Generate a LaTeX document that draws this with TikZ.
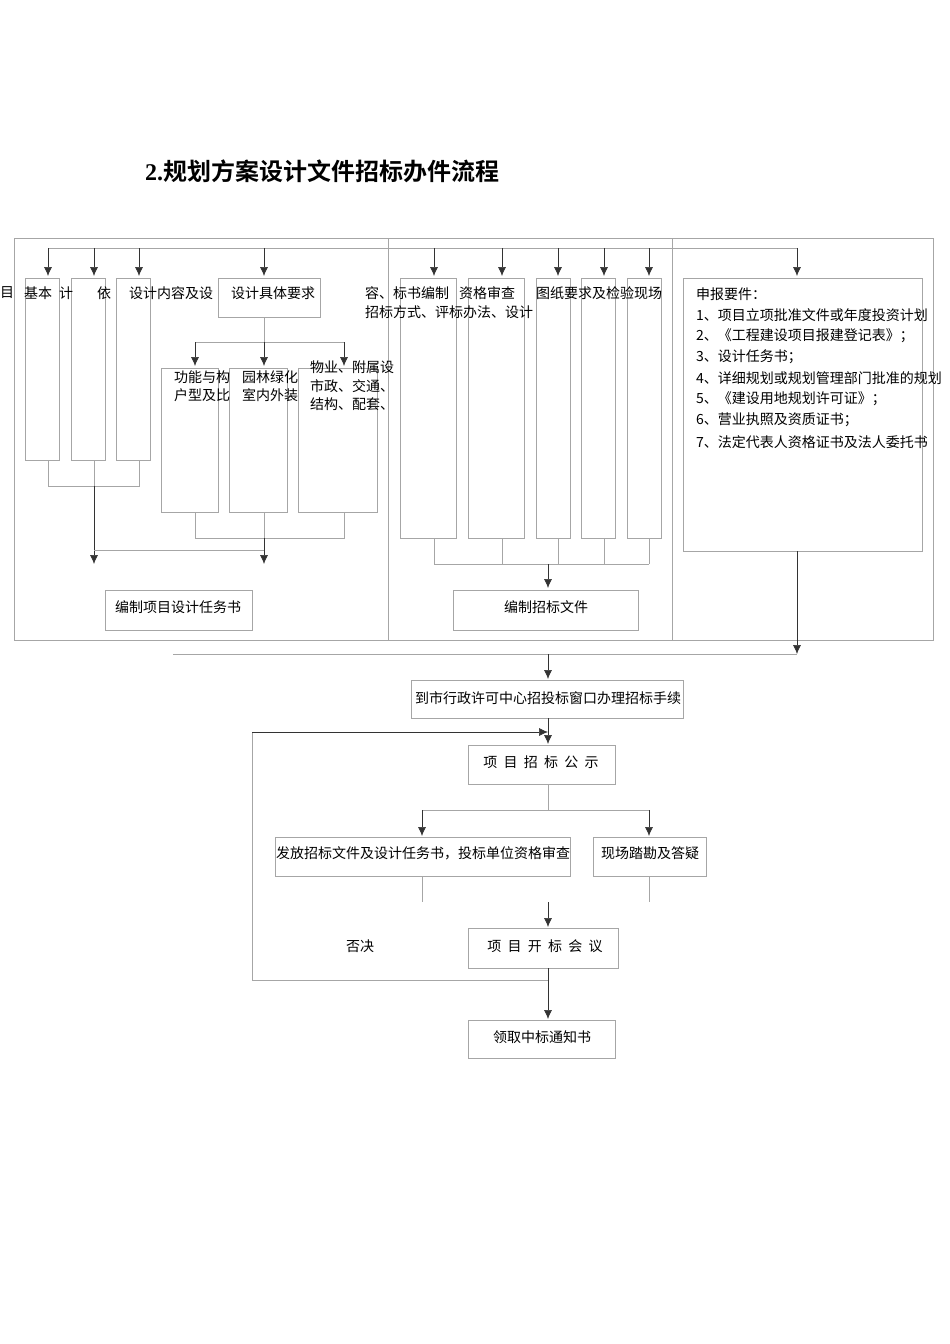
\documentclass[tikz,border=0pt]{standalone}
\usepackage{fontspec}
\newfontfamily\cjk{Noto Sans CJK SC}
\newfontfamily\cjkb{Noto Sans CJK SC Bold}
\usetikzlibrary{arrows.meta}
\begin{document}
\begin{tikzpicture}[x=1pt,y=-1pt,
  ln/.style={draw=gray!70,line width=0.6pt},
  ar/.style={ln,-{Latex[length=9pt,width=8pt]},draw=black!80},
  bx/.style={draw=gray!70,line width=0.6pt},
  tx/.style={font=\cjk\fontsize{14}{18.5}\selectfont,inner sep=0pt,anchor=west,align=left}]
\useasboundingbox (0,0) rectangle (950,1344);
\node[anchor=west,inner sep=0pt,font=\cjkb\fontsize{24}{28}\selectfont] (title) at (145,171) {\textbf{\fontspec{Liberation Serif}2.}规划方案设计文件招标办件流程};
% frame
\draw[ln] (14,238) rectangle (933,640);
\draw[ln] (388,238) -- (388,640);
\draw[ln] (672,238) -- (672,640);
\draw[ln] (48,248) -- (797,248);
% left columns
\foreach \a/\b in {25/59,71/105,116/150} \draw[bx] (\a,278) rectangle (\b,460);
\foreach \x in {48,94,139,264,434,502,558,604,649,797} \draw[ar] (\x,248) -- (\x,276);
\draw[bx] (218,278) rectangle (320,317);
\node[tx] (req) at (231,293) {设计具体要求};
\draw[ln] (264,317) -- (264,342);
\draw[ln] (195,342) -- (344,342);
\foreach \x in {195,264,344} \draw[ar] (\x,342) -- (\x,366);
\foreach \a/\b in {161/218,229/287,298/377} \draw[bx] (\a,368) rectangle (\b,512);
\draw[ln] (48,460) -- (48,486) -- (139,486) -- (139,460);
\draw[ln] (94,460) -- (94,486);
\draw[ln] (195,512) -- (195,538) -- (344,538) -- (344,512);
\draw[ln] (264,512) -- (264,538);
\draw[ar] (94,486) -- (94,564);
\draw[ar] (264,538) -- (264,564);
\draw[ln] (94,550) -- (264,550);
\draw[bx] (105,590) rectangle (252,630);
\node[tx,anchor=center] (b1) at (178,607) {编制项目设计任务书};
\node[tx] at (0,293) {目};
\node[tx] at (24,293) {基本};
\node[tx] at (59,293) {计};
\node[tx] at (97,293) {依};
\node[tx] at (129,293) {设计内容及设};
\node[tx] at (174,386) {功能与构\\户型及比};
\node[tx] at (242,386) {园林绿化\\室内外装};
\node[tx] at (310,386) {物业、附属设\\市政、交通、\\结构、配套、};
% middle
\foreach \a/\b in {400/456,468/524,536/570,581/615,627/661} \draw[bx] (\a,278) rectangle (\b,538);
\foreach \x in {434,502,558,604,649} \draw[ln] (\x,538) -- (\x,564);
\draw[ln] (434,564) -- (649,564);
\draw[ar] (548,564) -- (548,588);
\draw[bx] (453,590) rectangle (638,630);
\node[tx,anchor=center] (b2) at (546,607) {编制招标文件};
\node[tx] at (365,293) {容、标书编制};
\node[tx] at (365,312) {招标方式、评标办法、设计};
\node[tx] at (459,293) {资格审查};
\node[tx] at (536,293) {图纸要求及检验现场};
% right
\draw[bx] (683,278) rectangle (922,551);
\node[tx] at (696,294) {申报要件：};
\node[tx] at (696,315) {1、项目立项批准文件或年度投资计划};
\node[tx] at (696,336) {2、《工程建设项目报建登记表》；};
\node[tx] at (696,357) {3、设计任务书；};
\node[tx] at (696,378) {4、详细规划或规划管理部门批准的规划};
\node[tx] at (696,399) {5、《建设用地规划许可证》；};
\node[tx] at (696,420) {6、营业执照及资质证书；};
\node[tx] at (696,442) {7、法定代表人资格证书及法人委托书};
\draw[ar] (797,551) -- (797,654);
\draw[ln] (173,654) -- (797,654);
% flow
\draw[ar] (548,654) -- (548,679);
\draw[bx] (411,680) rectangle (683,718);
\node[tx,anchor=center] (p1) at (548,698) {到市行政许可中心招投标窗口办理招标手续};
\draw[ar] (548,718) -- (548,744);
\draw[bx] (468,745) rectangle (615,784);
\node[tx,anchor=center] (p2) at (541,762) {项\ \ 目\ \ 招\ \ 标\ \ 公\ \ 示};
\draw[ln] (548,784) -- (548,810);
\draw[ln] (422,810) -- (649,810);
\draw[ar] (422,810) -- (422,836);
\draw[ar] (649,810) -- (649,836);
\draw[bx] (275,837) rectangle (570,876);
\node[tx,anchor=center] (p3) at (423,853) {发放招标文件及设计任务书，投标单位资格审查};
\draw[bx] (593,837) rectangle (706,876);
\node[tx,anchor=center] (p4) at (650,853) {现场踏勘及答疑};
\draw[ln] (422,876) -- (422,902);
\draw[ln] (649,876) -- (649,902);
\draw[ar] (548,902) -- (548,927);
\draw[bx] (468,928) rectangle (618,968);
\node[tx,anchor=center] (p5) at (545,946) {项\ \ 目\ \ 开\ \ 标\ \ 会\ \ 议};
\draw[ar] (548,968) -- (548,1019);
\draw[bx] (468,1020) rectangle (615,1058);
\node[tx,anchor=center] (p6) at (542,1037) {领取中标通知书};
\draw[ln] (548,980) -- (252,980) -- (252,732);
\draw[ar] (252,732) -- (548,732);
\node[tx,anchor=center] (no) at (360,946) {否决};
\end{tikzpicture}
\end{document}
